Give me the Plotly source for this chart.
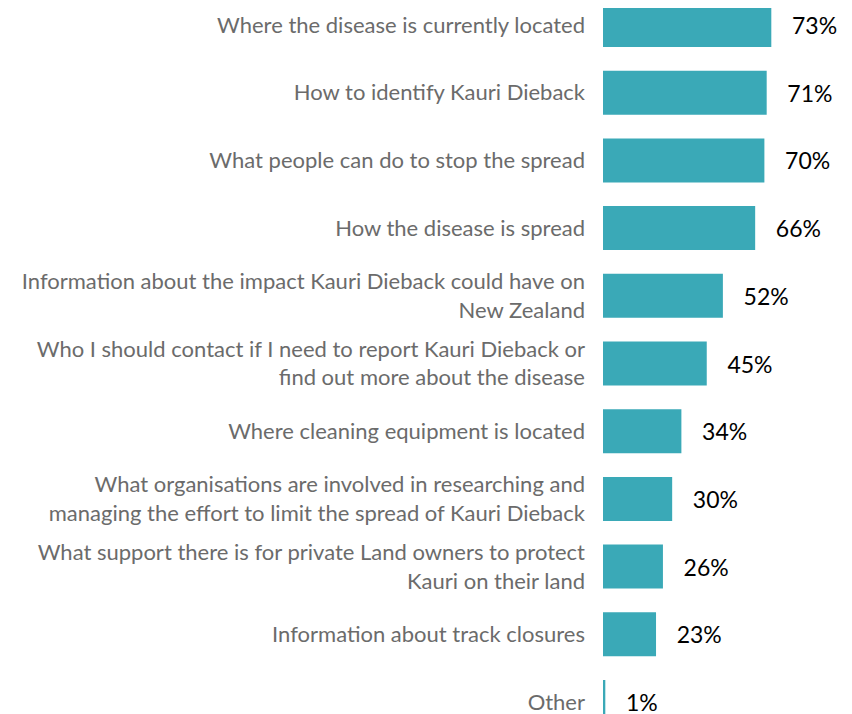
import plotly.graph_objects as go

categories = [
    "Where the disease is currently located",
    "How to identify Kauri Dieback",
    "What people can do to stop the spread",
    "How the disease is spread",
    "Information about the impact Kauri Dieback could have on<br>New Zealand",
    "Who I should contact if I need to report Kauri Dieback or<br>find out more about the disease",
    "Where cleaning equipment is located",
    "What organisations are involved in researching and<br>managing the effort to limit the spread of Kauri Dieback",
    "What support there is for private Land owners to protect<br>Kauri on their land",
    "Information about track closures",
    "Other",
]
values = [73, 71, 70, 66, 52, 45, 34, 30, 26, 23, 1]

fig = go.Figure(
    go.Bar(
        x=values,
        y=categories,
        orientation="h",
        marker=dict(color="#3aa9b7", line=dict(width=0)),
        width=0.65,
        text=[f"{v}%" for v in values],
        texttemplate="   %{text}",
        textposition="outside",
        textfont=dict(color="#000000", size=23, family="Lato"),
        cliponaxis=False,
    )
)
# page has an 8px body margin, so the figure is 844x706
fig.update_layout(
    width=844,
    height=706,
    margin=dict(l=595, r=0, t=0, b=0, autoexpand=False),
    paper_bgcolor="white",
    plot_bgcolor="white",
    showlegend=False,
    font=dict(family="Lato", size=22, color="#6b6b6b"),
    xaxis=dict(range=[0, 108], visible=False),
    yaxis=dict(
        range=[10.177, -0.251],
        showgrid=False,
        zeroline=False,
        showline=False,
        ticks="",
        ticklabelstandoff=17,
        automargin=False,
        tickfont=dict(size=22, color="#6b6b6b", family="Lato"),
    ),
)
fig.write_html("out.html")
